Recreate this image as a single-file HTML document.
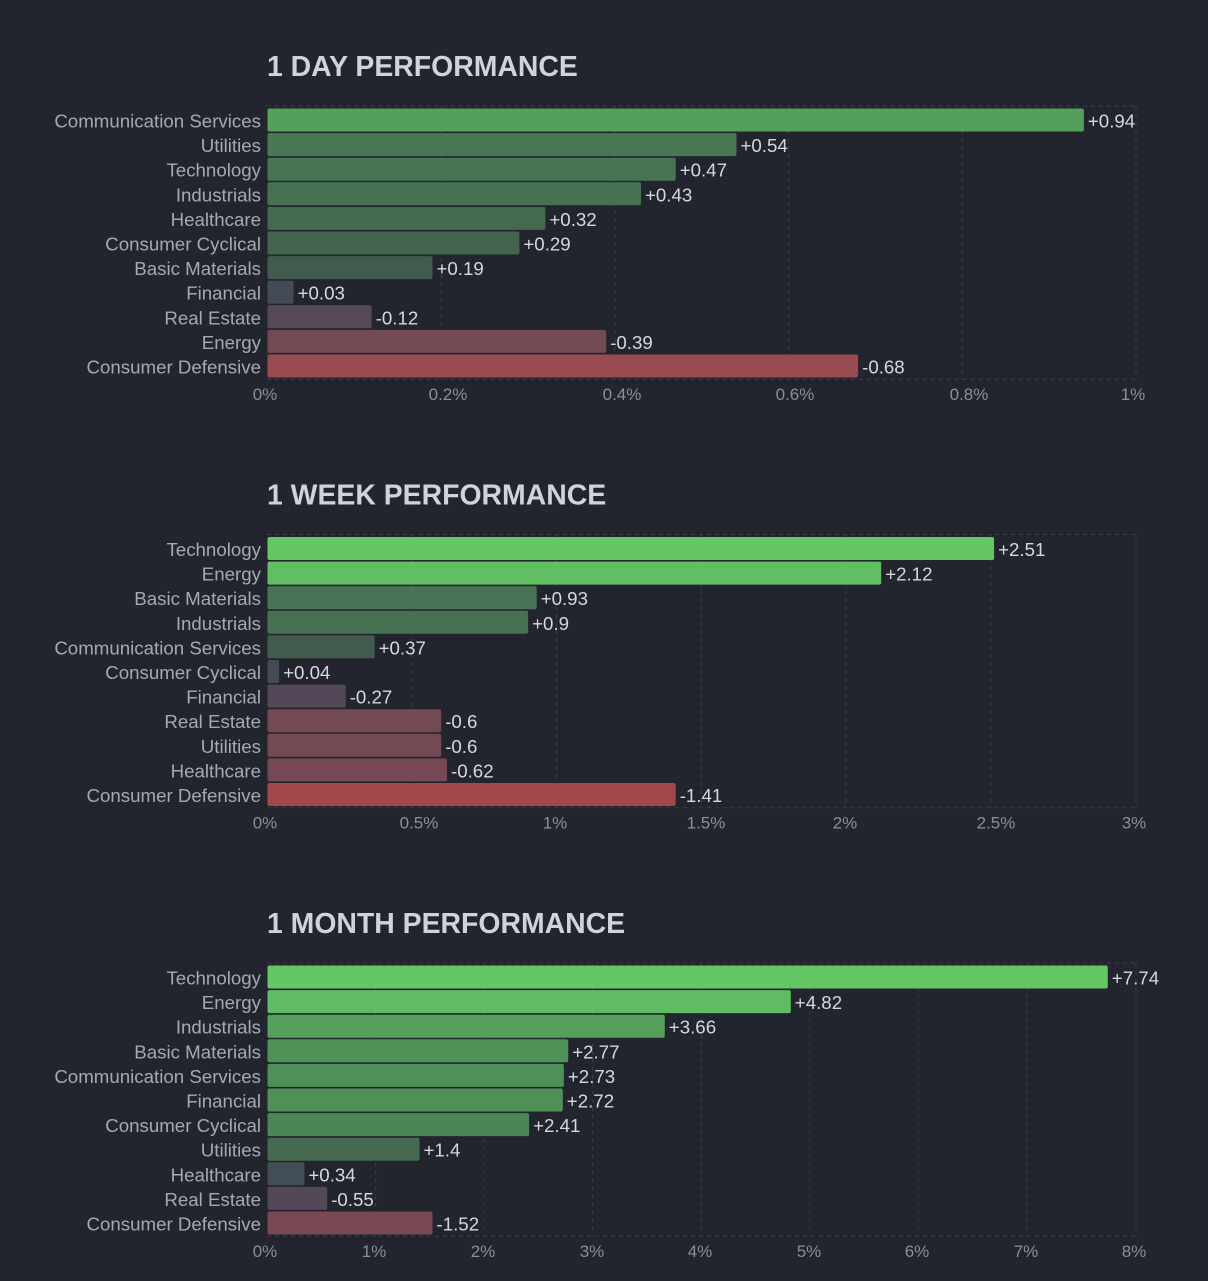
<!DOCTYPE html>
<html>
<head>
<meta charset="utf-8">
<style>
html,body{margin:0;padding:0;background:#22252d;}
svg{display:block;}
.t{font-family:"Liberation Sans",Arial,sans-serif;font-weight:bold;font-size:28.4px;fill:#d0d3d9;}
.c{font-family:"Liberation Sans",Arial,sans-serif;font-size:18.7px;fill:#a6a9b4;text-anchor:end;}
.v{font-family:"Liberation Sans",Arial,sans-serif;font-size:18.7px;fill:#d6d8de;}
.k{font-family:"Liberation Sans",Arial,sans-serif;font-size:17px;fill:#8b8f9b;text-anchor:middle;}
.g{stroke:#3b3e48;stroke-width:1;stroke-dasharray:4 4;fill:none;}
.r text{dominant-baseline:auto;}
</style>
</head>
<body>
<svg width="1208" height="1281" viewBox="0 0 1208 1281" xmlns="http://www.w3.org/2000/svg">
<rect width="1208" height="1281" fill="#22252d"/>

<!-- ============ CHART 1 ============ -->
<g>
<text class="t" x="267" y="76">1 DAY PERFORMANCE</text>
<line class="g" x1="267" y1="106" x2="1136" y2="106"/>
<line class="g" x1="267" y1="379.3" x2="1136" y2="379.3"/>
<line class="g" x1="441.2" y1="106" x2="441.2" y2="379.3"/>
<line class="g" x1="614.9" y1="106" x2="614.9" y2="379.3"/>
<line class="g" x1="788.6" y1="106" x2="788.6" y2="379.3"/>
<line class="g" x1="962.3" y1="106" x2="962.3" y2="379.3"/>
<line class="g" x1="1136" y1="106" x2="1136" y2="379.3"/>

<rect x="267.5" y="108.5" width="816.4" height="23" rx="2" fill="#549f59"/>
<rect x="267.5" y="133.1" width="469.0" height="23" rx="2" fill="#497855"/>
<rect x="267.5" y="157.7" width="408.2" height="23" rx="2" fill="#487454"/>
<rect x="267.5" y="182.3" width="373.5" height="23" rx="2" fill="#477153"/>
<rect x="267.5" y="206.9" width="277.9" height="23" rx="2" fill="#456850"/>
<rect x="267.5" y="231.5" width="251.9" height="23" rx="2" fill="#44644f"/>
<rect x="267.5" y="256.1" width="165.0" height="23" rx="2" fill="#435a4e"/>
<rect x="267.5" y="280.7" width="26.1" height="23" rx="2" fill="#444a56"/>
<rect x="267.5" y="305.3" width="104.2" height="23" rx="2" fill="#574857"/>
<rect x="267.5" y="329.9" width="338.7" height="23" rx="2" fill="#734953"/>
<rect x="267.5" y="354.5" width="590.6" height="23" rx="2" fill="#984a50"/>

<text class="c" x="261" y="127.5">Communication Services</text>
<text class="c" x="261" y="152.1">Utilities</text>
<text class="c" x="261" y="176.7">Technology</text>
<text class="c" x="261" y="201.3">Industrials</text>
<text class="c" x="261" y="225.9">Healthcare</text>
<text class="c" x="261" y="250.5">Consumer Cyclical</text>
<text class="c" x="261" y="275.1">Basic Materials</text>
<text class="c" x="261" y="299.7">Financial</text>
<text class="c" x="261" y="324.3">Real Estate</text>
<text class="c" x="261" y="348.9">Energy</text>
<text class="c" x="261" y="373.5">Consumer Defensive</text>

<text class="v" x="1087.9" y="127.5">+0.94</text>
<text class="v" x="740.5" y="152.1">+0.54</text>
<text class="v" x="679.7" y="176.7">+0.47</text>
<text class="v" x="645.0" y="201.3">+0.43</text>
<text class="v" x="549.4" y="225.9">+0.32</text>
<text class="v" x="523.4" y="250.5">+0.29</text>
<text class="v" x="436.5" y="275.1">+0.19</text>
<text class="v" x="297.6" y="299.7">+0.03</text>
<text class="v" x="375.7" y="324.3">-0.12</text>
<text class="v" x="610.2" y="348.9">-0.39</text>
<text class="v" x="862.1" y="373.5">-0.68</text>

<text class="k" x="265" y="400">0%</text>
<text class="k" x="448" y="400">0.2%</text>
<text class="k" x="622" y="400">0.4%</text>
<text class="k" x="795" y="400">0.6%</text>
<text class="k" x="969" y="400">0.8%</text>
<text class="k" x="1133" y="400">1%</text>
</g>

<!-- ============ CHART 2 ============ -->
<g transform="translate(0,428.5)">
<text class="t" x="267" y="76">1 WEEK PERFORMANCE</text>
<line class="g" x1="267" y1="106" x2="1136" y2="106"/>
<line class="g" x1="267" y1="379.3" x2="1136" y2="379.3"/>
<line class="g" x1="411.8" y1="106" x2="411.8" y2="379.3"/>
<line class="g" x1="556.5" y1="106" x2="556.5" y2="379.3"/>
<line class="g" x1="701.3" y1="106" x2="701.3" y2="379.3"/>
<line class="g" x1="846" y1="106" x2="846" y2="379.3"/>
<line class="g" x1="990.8" y1="106" x2="990.8" y2="379.3"/>
<line class="g" x1="1136" y1="106" x2="1136" y2="379.3"/>

<rect x="267.5" y="108.5" width="726.6" height="23" rx="2" fill="#64c664"/>
<rect x="267.5" y="133.1" width="613.7" height="23" rx="2" fill="#62be62"/>
<rect x="267.5" y="157.7" width="269.2" height="23" rx="2" fill="#487354"/>
<rect x="267.5" y="182.3" width="260.6" height="23" rx="2" fill="#477153"/>
<rect x="267.5" y="206.9" width="107.1" height="23" rx="2" fill="#435a4e"/>
<rect x="267.5" y="231.5" width="11.6" height="23" rx="2" fill="#444a56"/>
<rect x="267.5" y="256.1" width="78.2" height="23" rx="2" fill="#544758"/>
<rect x="267.5" y="280.7" width="173.7" height="23" rx="2" fill="#734953"/>
<rect x="267.5" y="305.3" width="173.7" height="23" rx="2" fill="#734953"/>
<rect x="267.5" y="329.9" width="179.5" height="23" rx="2" fill="#744953"/>
<rect x="267.5" y="354.5" width="408.2" height="23" rx="2" fill="#a3484a"/>

<text class="c" x="261" y="127.5">Technology</text>
<text class="c" x="261" y="152.1">Energy</text>
<text class="c" x="261" y="176.7">Basic Materials</text>
<text class="c" x="261" y="201.3">Industrials</text>
<text class="c" x="261" y="225.9">Communication Services</text>
<text class="c" x="261" y="250.5">Consumer Cyclical</text>
<text class="c" x="261" y="275.1">Financial</text>
<text class="c" x="261" y="299.7">Real Estate</text>
<text class="c" x="261" y="324.3">Utilities</text>
<text class="c" x="261" y="348.9">Healthcare</text>
<text class="c" x="261" y="373.5">Consumer Defensive</text>

<text class="v" x="998.1" y="127.5">+2.51</text>
<text class="v" x="885.2" y="152.1">+2.12</text>
<text class="v" x="540.7" y="176.7">+0.93</text>
<text class="v" x="532.1" y="201.3">+0.9</text>
<text class="v" x="378.6" y="225.9">+0.37</text>
<text class="v" x="283.1" y="250.5">+0.04</text>
<text class="v" x="349.7" y="275.1">-0.27</text>
<text class="v" x="445.2" y="299.7">-0.6</text>
<text class="v" x="445.2" y="324.3">-0.6</text>
<text class="v" x="451.0" y="348.9">-0.62</text>
<text class="v" x="679.7" y="373.5">-1.41</text>

<text class="k" x="265" y="400">0%</text>
<text class="k" x="419" y="400">0.5%</text>
<text class="k" x="555" y="400">1%</text>
<text class="k" x="706" y="400">1.5%</text>
<text class="k" x="845" y="400">2%</text>
<text class="k" x="996" y="400">2.5%</text>
<text class="k" x="1134" y="400">3%</text>
</g>

<!-- ============ CHART 3 ============ -->
<g transform="translate(0,857)">
<text class="t" x="267" y="76">1 MONTH PERFORMANCE</text>
<line class="g" x1="267" y1="106" x2="1136" y2="106"/>
<line class="g" x1="267" y1="379.3" x2="1136" y2="379.3"/>
<line class="g" x1="375.6" y1="106" x2="375.6" y2="379.3"/>
<line class="g" x1="484.1" y1="106" x2="484.1" y2="379.3"/>
<line class="g" x1="592.7" y1="106" x2="592.7" y2="379.3"/>
<line class="g" x1="701.3" y1="106" x2="701.3" y2="379.3"/>
<line class="g" x1="809.8" y1="106" x2="809.8" y2="379.3"/>
<line class="g" x1="918.4" y1="106" x2="918.4" y2="379.3"/>
<line class="g" x1="1026.9" y1="106" x2="1026.9" y2="379.3"/>
<line class="g" x1="1136" y1="106" x2="1136" y2="379.3"/>

<rect x="267.5" y="108.5" width="840.3" height="23" rx="2" fill="#64c664"/>
<rect x="267.5" y="133.1" width="523.3" height="23" rx="2" fill="#60bc62"/>
<rect x="267.5" y="157.7" width="397.3" height="23" rx="2" fill="#55a05a"/>
<rect x="267.5" y="182.3" width="300.7" height="23" rx="2" fill="#509158"/>
<rect x="267.5" y="206.9" width="296.4" height="23" rx="2" fill="#4f9058"/>
<rect x="267.5" y="231.5" width="295.3" height="23" rx="2" fill="#4f8f58"/>
<rect x="267.5" y="256.1" width="261.6" height="23" rx="2" fill="#4c8656"/>
<rect x="267.5" y="280.7" width="152.0" height="23" rx="2" fill="#466b52"/>
<rect x="267.5" y="305.3" width="36.9" height="23" rx="2" fill="#444e56"/>
<rect x="267.5" y="329.9" width="59.7" height="23" rx="2" fill="#544758"/>
<rect x="267.5" y="354.5" width="165.0" height="23" rx="2" fill="#784854"/>

<text class="c" x="261" y="127.5">Technology</text>
<text class="c" x="261" y="152.1">Energy</text>
<text class="c" x="261" y="176.7">Industrials</text>
<text class="c" x="261" y="201.3">Basic Materials</text>
<text class="c" x="261" y="225.9">Communication Services</text>
<text class="c" x="261" y="250.5">Financial</text>
<text class="c" x="261" y="275.1">Consumer Cyclical</text>
<text class="c" x="261" y="299.7">Utilities</text>
<text class="c" x="261" y="324.3">Healthcare</text>
<text class="c" x="261" y="348.9">Real Estate</text>
<text class="c" x="261" y="373.5">Consumer Defensive</text>

<text class="v" x="1111.8" y="127.5">+7.74</text>
<text class="v" x="794.8" y="152.1">+4.82</text>
<text class="v" x="668.8" y="176.7">+3.66</text>
<text class="v" x="572.2" y="201.3">+2.77</text>
<text class="v" x="567.9" y="225.9">+2.73</text>
<text class="v" x="566.8" y="250.5">+2.72</text>
<text class="v" x="533.1" y="275.1">+2.41</text>
<text class="v" x="423.5" y="299.7">+1.4</text>
<text class="v" x="308.4" y="324.3">+0.34</text>
<text class="v" x="331.2" y="348.9">-0.55</text>
<text class="v" x="436.5" y="373.5">-1.52</text>

<text class="k" x="265" y="400">0%</text>
<text class="k" x="374" y="400">1%</text>
<text class="k" x="483" y="400">2%</text>
<text class="k" x="592" y="400">3%</text>
<text class="k" x="700" y="400">4%</text>
<text class="k" x="809" y="400">5%</text>
<text class="k" x="917" y="400">6%</text>
<text class="k" x="1026" y="400">7%</text>
<text class="k" x="1134" y="400">8%</text>
</g>
</svg>
</body>
</html>
